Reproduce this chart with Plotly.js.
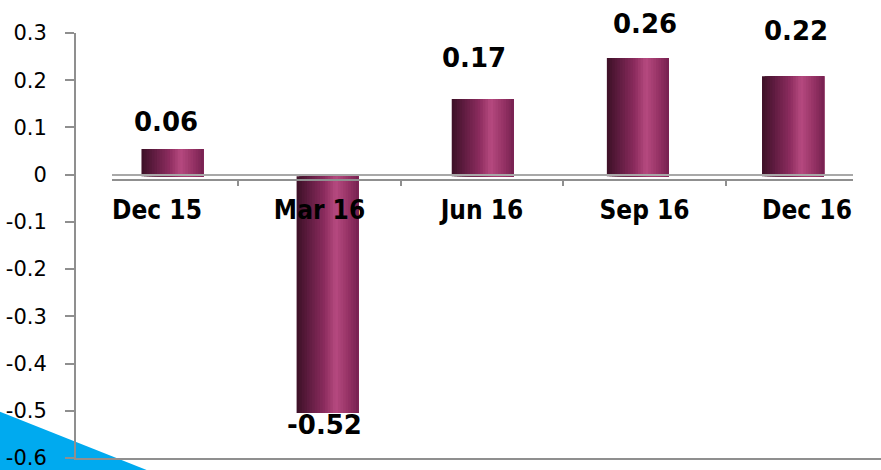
<!DOCTYPE html>
<html>
<head>
<meta charset="utf-8">
<script src="https://cdn.plot.ly/plotly-3.0.1.min.js"></script>
<style>html,body{margin:0;padding:0;background:#fff;}#chart{width:881px;height:470px;}</style>
</head>
<body>
<div id="chart"></div>
<script>
// ---- data ----
const categories = ["Dec 15", "Mar 16", "Jun 16", "Sep 16", "Dec 16"];
const values = [0.06, -0.52, 0.17, 0.26, 0.22];
const yTickVals = [0.3, 0.2, 0.1, 0, -0.1, -0.2, -0.3, -0.4, -0.5, -0.6];
const yTickText = ["0.3", "0.2", "0.1", "0", "-0.1", "-0.2", "-0.3", "-0.4", "-0.5", "-0.6"];

// ---- styling ----
const labelDx = [-6, -3, -9, 7, 3];
const labelDy = [27, -12, 41, 34, 45];
const gray = "#8f8f8f";
const catIdx = categories.map((_, i) => i);

// cylinder shading: stacked strips, each reaching to the right edge of the bar
const stops = [[0, [60, 16, 38]], [0.18, [92, 27, 62]], [0.45, [140, 44, 94]], [0.63, [182, 74, 128]], [0.82, [152, 52, 103]], [1, [118, 33, 80]]];
function shade(t) {
  for (let i = 0; i < stops.length - 1; i++) {
    const [t0, c0] = stops[i], [t1, c1] = stops[i + 1];
    if (t >= t0 && t <= t1) {
      const f = (t - t0) / (t1 - t0);
      const c = c0.map((v, j) => Math.round(v + (c1[j] - v) * f));
      return `rgb(${c[0]},${c[1]},${c[2]})`;
    }
  }
  return "rgb(118,33,80)";
}
const barW = 0.4, N = 24;
const traces = [];
for (let k = 0; k < N; k++) {
  traces.push({
    type: "bar", x: catIdx, y: values, xaxis: "x", yaxis: "y2",
    offset: -barW / 2 + k * barW / N, width: barW - k * barW / N,
    marker: { color: shade((k + 0.5) / N), line: { width: 0 } },
    showlegend: false, hoverinfo: k === 0 ? "y" : "skip"
  });
}
// carrier for the category (floor) axis
traces.push({ type: "scatter", x: catIdx, y: values, xaxis: "x2", yaxis: "y", mode: "none", showlegend: false, hoverinfo: "skip" });

const annotations = categories.map((c, i) => ({
  xref: "x", yref: "y2", x: i, y: values[i], text: values[i].toFixed(2),
  showarrow: false, xanchor: "center", yanchor: "middle",
  xshift: labelDx[i], yshift: labelDy[i],
  font: { family: "DejaVu Sans", size: 26, weight: "bold", color: "#000" }
}));

const layout = {
  width: 881, height: 470,
  margin: { l: 76, r: 0, t: 33, b: 12 },
  paper_bgcolor: "#fff", plot_bgcolor: "rgba(0,0,0,0)",
  barmode: "overlay", showlegend: false,
  xaxis: {
    domain: [0, 1], range: [-0.622, 4.567], showline: true, linecolor: gray, linewidth: 2,
    showticklabels: false, ticks: "", showgrid: false, zeroline: false, fixedrange: true
  },
  xaxis2: {
    anchor: "free", position: 0.6534, domain: [0.0443, 0.9652], range: [-0.279, 4.283],
    tickmode: "array", tickvals: catIdx, ticktext: categories, ticks: "",
    showline: true, linecolor: gray, linewidth: 2, showgrid: false, zeroline: false,
    ticklabelstandoff: 6,
    tickfont: { family: "DejaVu Sans Condensed, DejaVu Sans", size: 26, weight: "bold", color: "#000" },
    minor: { tickmode: "array", tickvals: [0.5, 1.5, 2.5, 3.5], ticks: "outside", ticklen: 5, tickwidth: 2, tickcolor: gray }
  },
  yaxis: {
    range: [-0.6, 0.3], tickmode: "array", tickvals: yTickVals, ticktext: yTickText,
    showline: true, linecolor: gray, linewidth: 2, ticks: "outside", ticklen: 9, tickwidth: 2, tickcolor: gray,
    showgrid: false, zeroline: true, zerolinecolor: "#a8a8a8", zerolinewidth: 2,
    ticklabelstandoff: 14, ticklabeloverflow: "allow",
    tickfont: { family: "DejaVu Sans", size: 21, color: "#000" }
  },
  yaxis2: { overlaying: "y", range: [-0.619, 0.315], visible: false, fixedrange: true },
  annotations: annotations,
  shapes: [{
    type: "path", xref: "paper", yref: "paper", layer: "below",
    path: "M -0.1068 0.1182 L 0.1191 -0.0518 L -0.1068 -0.0518 Z",
    fillcolor: "#00aaef", line: { width: 0 }
  }]
};

Plotly.newPlot("chart", traces, layout, { staticPlot: true, displayModeBar: false });
</script>
</body>
</html>
